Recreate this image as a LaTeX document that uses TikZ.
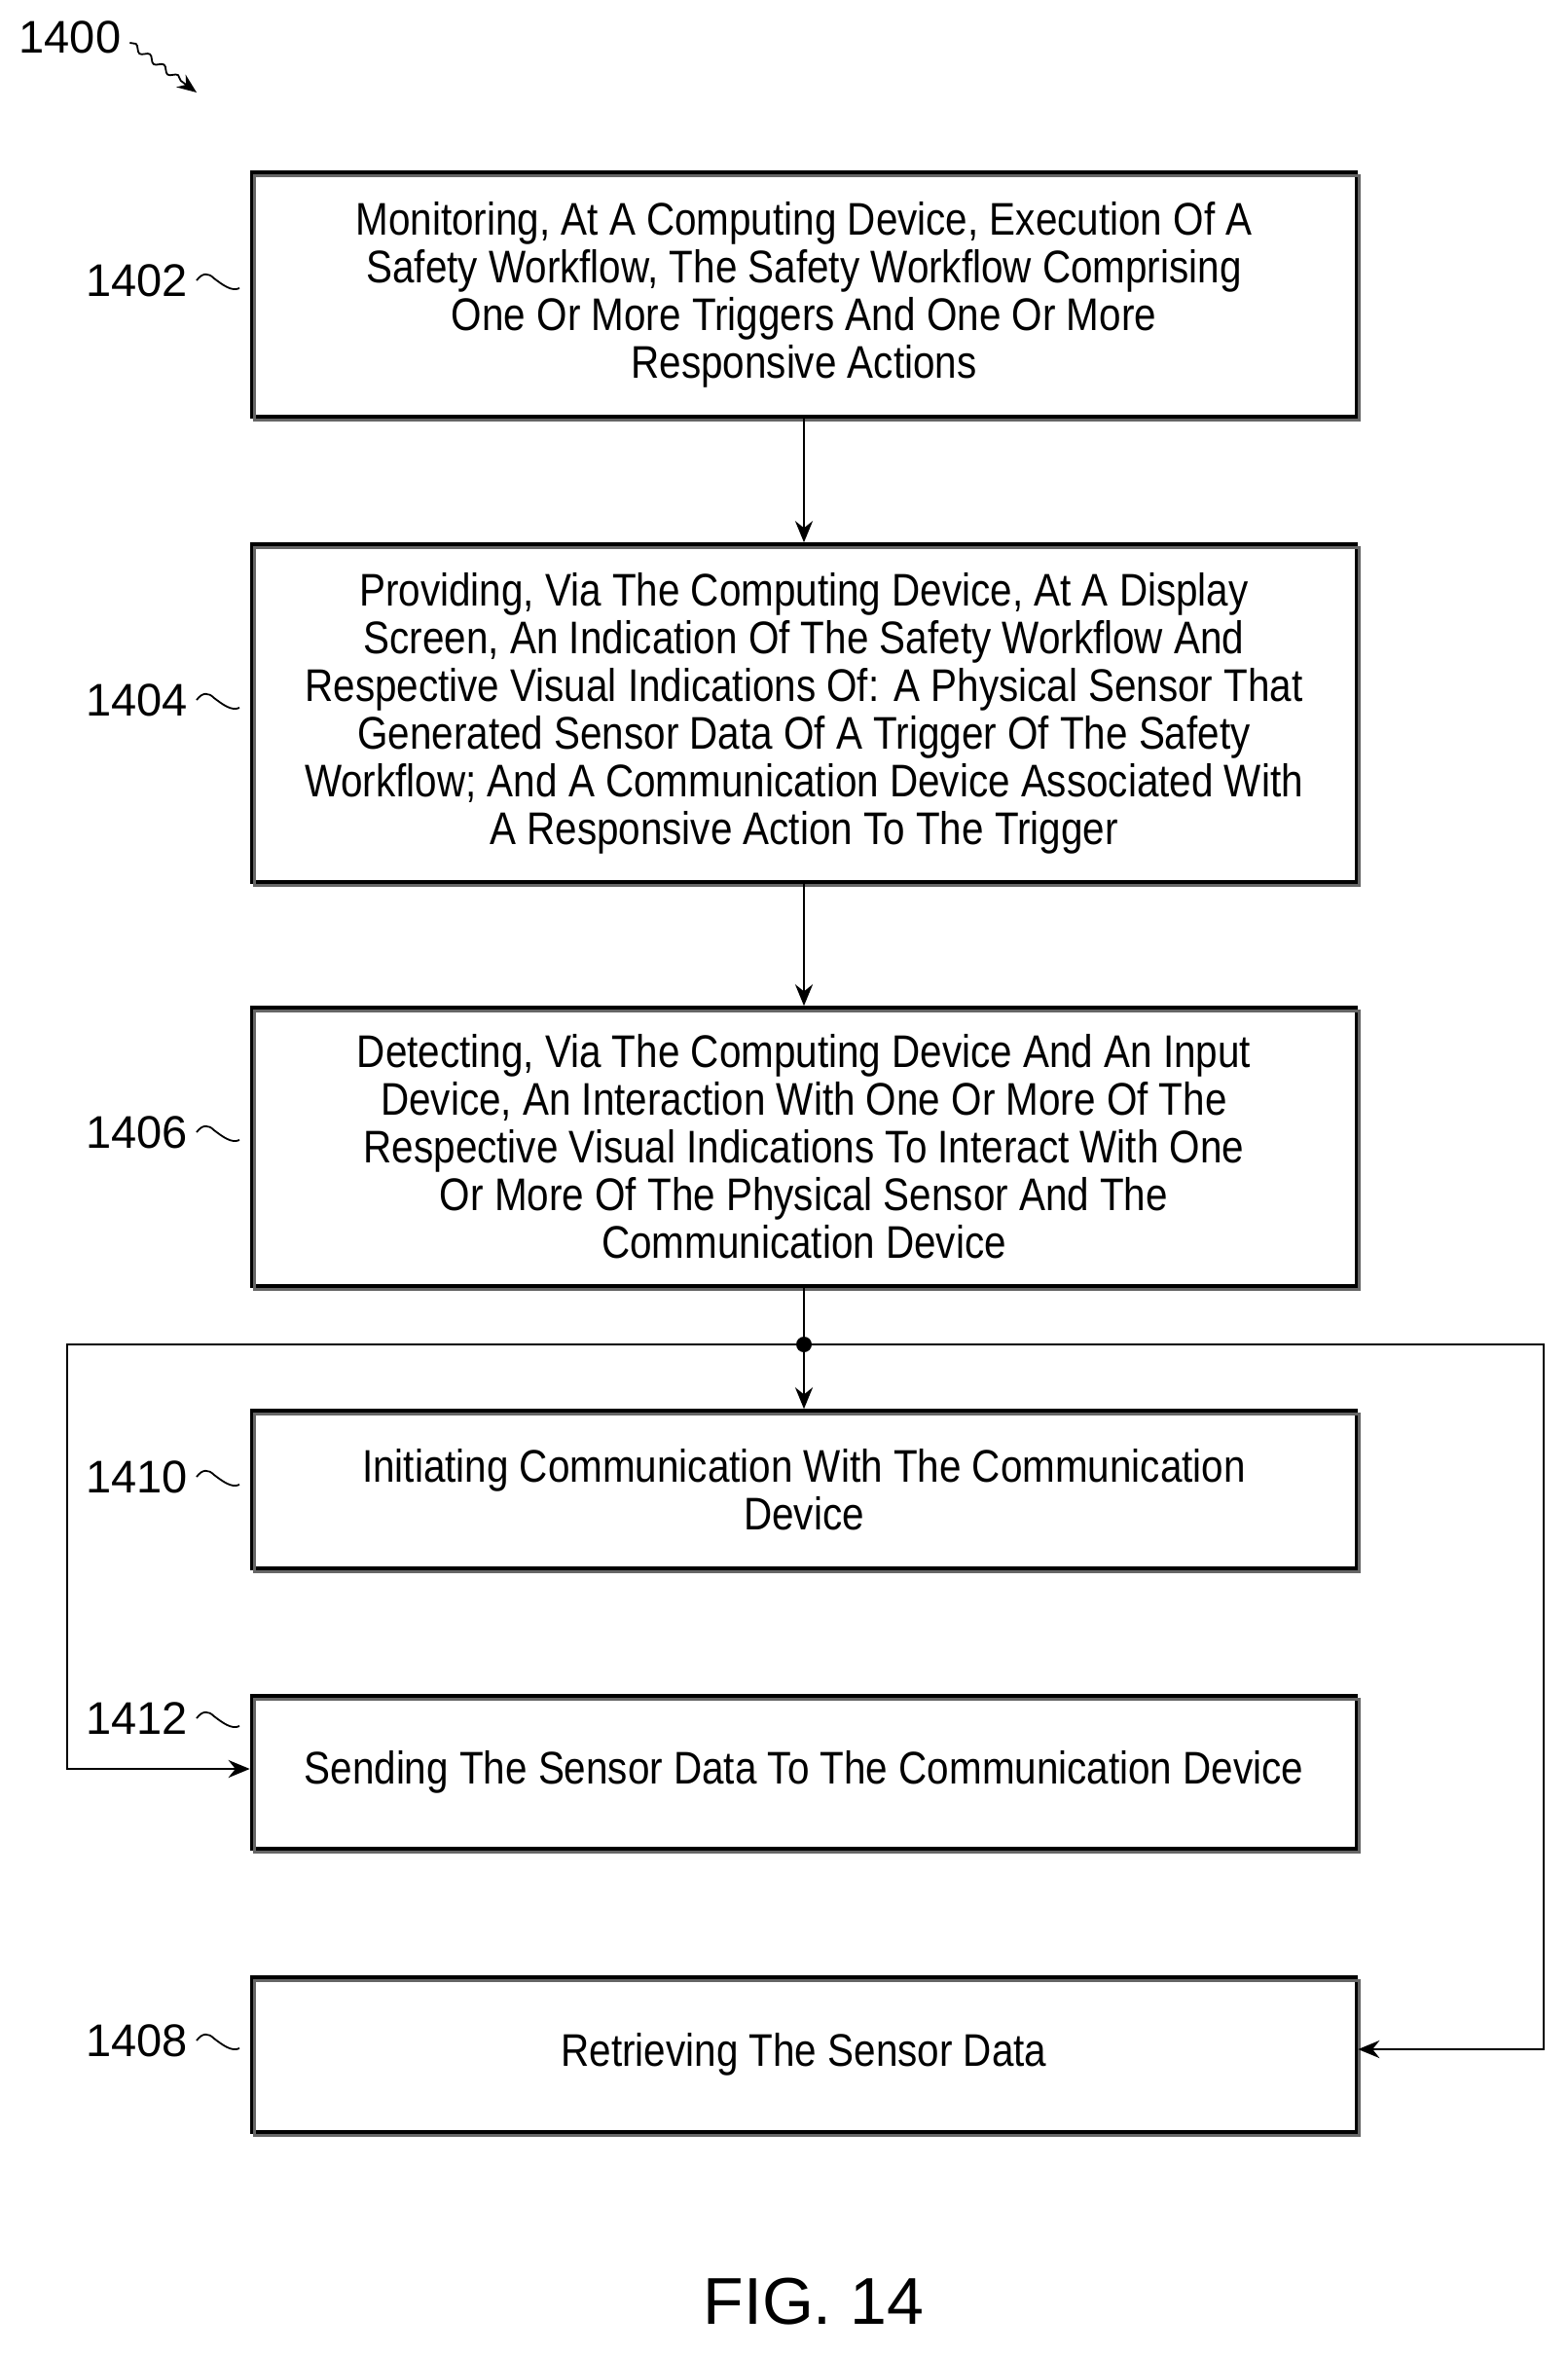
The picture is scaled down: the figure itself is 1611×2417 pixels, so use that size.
\documentclass[tikz,border=0pt]{standalone}
\usepackage{fontspec}
\setmainfont{Liberation Sans}[FakeStretch=0.86]
\newfontfamily\lblfont{Liberation Sans}
\usetikzlibrary{arrows.meta,decorations.pathmorphing}
\begin{document}
\begin{tikzpicture}[x=0.5pt,y=-0.5pt,
  box/.style={draw,line width=1.8pt,minimum width=567.5pt,align=center,
     font=\fontsize{23.5}{24.5}\selectfont,inner sep=0pt,
     postaction={draw=black!60,line width=1.4pt,transform canvas={shift={(1.6pt,-1.6pt)}}}},
  lbl/.style={font=\lblfont\fontsize{23.5}{26}\selectfont,anchor=east},
  arr/.style={line width=1.4pt,-{Stealth[length=11pt,width=9pt]}},
  squig/.style={line width=0.9pt}]
\useasboundingbox (0,0) rectangle (1611,2417);
\def\bx#1#2#3#4{\node[box,minimum height={(#3-#2)*0.5pt}] (#1) at (826,{(#2+#3)/2}) {#4};}
\bx{b1402}{177}{428}{Monitoring, At A Computing Device, Execution Of A\\Safety Workflow, The Safety Workflow Comprising\\One Or More Triggers And One Or More\\Responsive Actions}
\bx{b1404}{559}{906}{Providing, Via The Computing Device, At A Display\\Screen, An Indication Of The Safety Workflow And\\Respective Visual Indications Of: A Physical Sensor That\\Generated Sensor Data Of A Trigger Of The Safety\\Workflow; And A Communication Device Associated With\\A Responsive Action To The Trigger}
\bx{b1406}{1035}{1321}{Detecting, Via The Computing Device And An Input\\Device, An Interaction With One Or More Of The\\Respective Visual Indications To Interact With One\\Or More Of The Physical Sensor And The\\Communication Device}
\bx{b1410}{1449}{1611}{Initiating Communication With The Communication\\Device}
\bx{b1412}{1742}{1899}{Sending The Sensor Data To The Communication Device}
\bx{b1408}{2031}{2190}{Retrieving The Sensor Data}
\draw[arr] (b1402.south) -- (b1404.north);
\draw[arr] (b1404.south) -- (b1406.north);
\coordinate (br) at (826,1381);
\draw[arr] (b1406.south) -- (b1410.north);
\fill (br) circle (4pt);
\coordinate (lt) at (69,1381); \coordinate (lb) at (69,1817);
\coordinate (rt) at (1586,1381); \coordinate (rb) at (1586,2105);
\draw[arr] (br) -- (lt) -- (lb) -- (b1412.west |- lb);
\draw[arr] (br) -- (rt) -- (rb) -- (b1408.east |- rb);
\foreach \n/\y in {1402/288,1404/719,1406/1163,1410/1517,1412/1765,1408/2096}{
  \node[lbl] (l\n) at (200,\y) {\n};
  \draw[squig] (l\n.east) ++(2,0) .. controls +(6,-8) and +(-6,-6) .. +(18,-2) .. controls +(8,6) and +(-8,4) .. +(44,8);
}
\node[font=\lblfont\fontsize{23.5}{26}\selectfont] (l1400) at (72,38) {1400};
\coordinate (a1400) at (202,95);
\draw[line width=0.9pt,-{Stealth[length=10pt,width=8pt]},decorate,decoration={snake,amplitude=1.5pt,segment length=9pt,post length=8pt}] (l1400.east) ++(2,6) -- (a1400);
\node[font=\lblfont\fontsize{34}{38}\selectfont] (fig) at (836,2364) {FIG. 14};
\end{tikzpicture}
\end{document}
